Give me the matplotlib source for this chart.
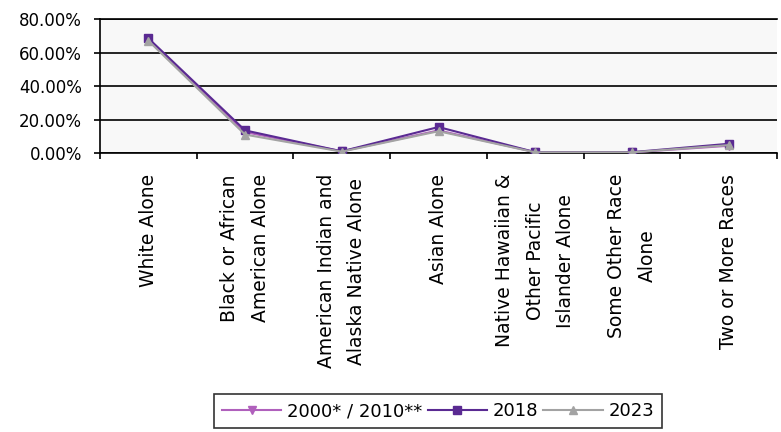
import matplotlib
matplotlib.use("Agg")
import matplotlib.pyplot as plt
from matplotlib.ticker import FuncFormatter, FixedLocator

categories = ["White Alone", "Black or African\nAmerican Alone",
              "American Indian and\nAlaska Native Alone", "Asian Alone",
              "Native Hawaiian &\nOther Pacific\nIslander Alone",
              "Some Other Race\nAlone", "Two or More Races"]
series_names = ["2000* / 2010**", "2018", "2023"]
v2000 = [68.0, 12.5, 1.0, 13.5, 0.5, 0.4, 4.3]
v2018 = [68.5, 13.5, 1.0, 15.5, 0.5, 0.5, 5.5]
v2023 = [67.0, 11.0, 0.8, 13.0, 0.4, 0.4, 4.7]
yticks = [0, 20, 40, 60, 80]

plt.rcParams['font.family'] = ['DejaVu Sans']

fig = plt.figure(figsize=(7.81, 4.32), dpi=100)
ax = fig.add_axes([100/781, 1-153/432, 677/781, 134/432])
ax.set_facecolor('#f8f8f8')

x = list(range(len(categories)))
ax.plot(x, v2000, color='#b060bc', lw=1.5, marker='v', ms=6, label=series_names[0], zorder=3)
ax.plot(x, v2018, color='#5a2a92', lw=1.5, marker='s', ms=6, label=series_names[1], zorder=4)
ax.plot(x, v2023, color='#a3a3a3', lw=1.5, marker='^', ms=6, label=series_names[2], zorder=5)

ax.set_xlim(-0.5, len(categories) - 0.5)
ax.set_ylim(0, 80)
ax.set_yticks(yticks)
ax.yaxis.set_major_formatter(FuncFormatter(lambda v, p: f"{v:.2f}%"))
ax.grid(axis='y', color='black', lw=1.2, zorder=1)
ax.set_axisbelow(True)

ax.set_xticks(x)
ax.set_xticklabels(categories, rotation=90, ha='center', va='top',
                   multialignment='center', fontsize=13.5, linespacing=1.75)
ax.tick_params(axis='x', which='major', length=0, pad=15)
ax.xaxis.set_minor_locator(FixedLocator([i - 0.5 for i in range(len(categories) + 1)]))
ax.tick_params(axis='x', which='minor', length=4, width=1.2, color='black', direction='out')
ax.tick_params(axis='y', length=4, width=1.2, color='black', labelsize=12, pad=9)

ax.spines['right'].set_visible(False)
for s in ['left', 'bottom', 'top']:
    ax.spines[s].set_color('black')
    ax.spines[s].set_linewidth(1.2)

leg = fig.legend(loc='center', bbox_to_anchor=(438/781, 1-411/432), ncol=3,
                 frameon=True, fancybox=False, edgecolor='black', fontsize=13,
                 handlelength=3.3, handletextpad=0.3, columnspacing=0.3,
                 borderpad=0.45)
leg.get_frame().set_linewidth(1.2)

fig.savefig("out.png", dpi=100)
